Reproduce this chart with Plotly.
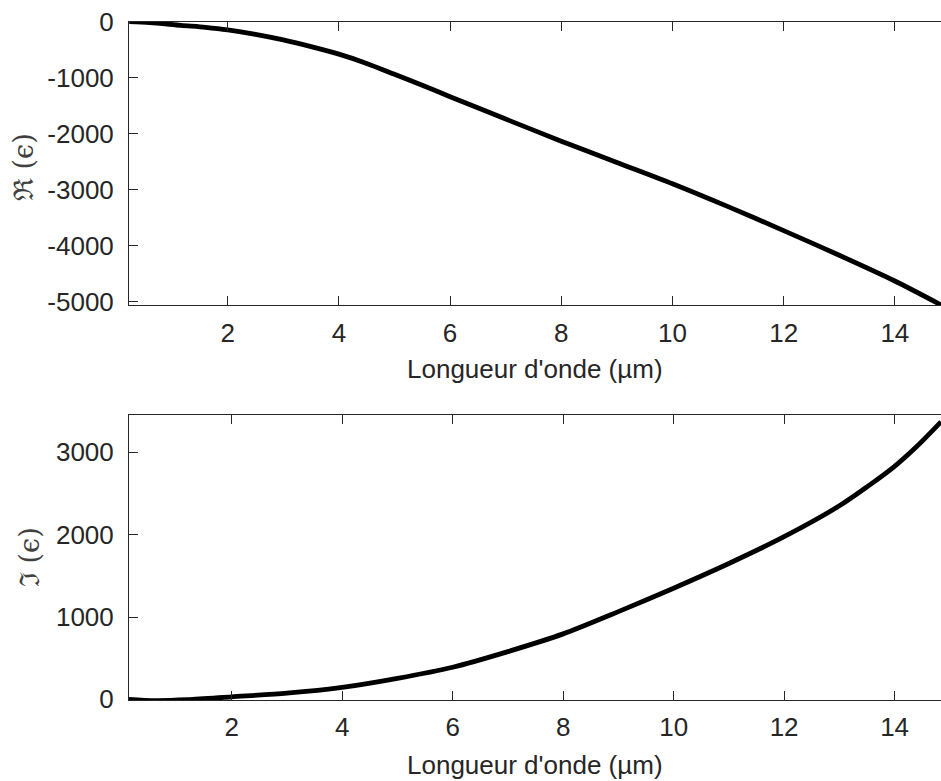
import plotly.graph_objects as go
from plotly.subplots import make_subplots

# Real part of permittivity (top)
wl_re = [0.23, 0.6, 1.16, 1.6, 2.0, 2.5, 3.0, 3.5, 4.0, 4.5, 5.0, 5.5, 6.0, 7.0, 8.0, 9.0, 10.0, 11.0, 12.0, 13.0, 14.0, 14.83]
eps_re = [5, -10, -60, -95, -140, -220, -320, -440, -575, -740, -935, -1130, -1335, -1735, -2130, -2510, -2890, -3300, -3730, -4170, -4630, -5058]

# Imaginary part of permittivity (bottom)
wl_im = [0.14, 0.61, 1.2, 2.0, 3.0, 4.0, 5.0, 6.0, 7.0, 8.0, 9.0, 10.0, 11.0, 12.0, 13.0, 13.5, 14.0, 14.4, 14.84]
eps_im = [0, -15, -5, 30, 75, 145, 255, 390, 580, 795, 1065, 1350, 1650, 1975, 2350, 2580, 2830, 3070, 3370]

x_ticks = [2, 4, 6, 8, 10, 12, 14]
y_ticks_re = [0, -1000, -2000, -3000, -4000, -5000]
y_ticks_im = [0, 1000, 2000, 3000]

xlabel = "Longueur d'onde (µm)"
ylabel_re = "ℜ (ϵ)"
ylabel_im = "ℑ (ϵ)"

W, H = 941, 781
L, R, T, B = 129, 0, 22, 81
ph = H - T - B

fig = make_subplots(rows=2, cols=1)
fig.add_trace(go.Scatter(x=wl_re, y=eps_re, mode="lines",
                         line=dict(color="black", width=4.8, shape="spline", smoothing=0.8),
                         showlegend=False), row=1, col=1)
fig.add_trace(go.Scatter(x=wl_im, y=eps_im, mode="lines",
                         line=dict(color="black", width=4.8, shape="spline", smoothing=0.8),
                         showlegend=False), row=2, col=1)

font = dict(family="Liberation Sans, Arial, sans-serif", size=26, color="#262626")
axcol = "#262626"

common_x = dict(showgrid=False, zeroline=False, showline=True, linecolor=axcol, linewidth=1,
                mirror="allticks", ticks="inside", ticklen=9, tickcolor=axcol,
                tickvals=x_ticks, ticktext=[str(v) for v in x_ticks], tickfont=font)
common_y = dict(showgrid=False, zeroline=False, showline=True, linecolor=axcol, linewidth=1,
                mirror=False, ticks="inside", ticklen=9, tickcolor=axcol, tickfont=font,
                ticklabelstandoff=9)

top_dom = [(700 - 305) / ph, 1.0]
bot_dom = [0.0, (700 - 415) / ph]

fig.update_xaxes(**common_x, range=[0.225, 14.83], domain=[0, 1], ticklabelstandoff=5, row=1, col=1)
fig.update_xaxes(**common_x, range=[0.141, 14.84], domain=[0, 1], ticklabelstandoff=4, row=2, col=1)
fig.update_yaxes(**common_y, range=[-5059, 0], domain=top_dom,
                 tickvals=y_ticks_re, ticktext=[str(v) for v in y_ticks_re], row=1, col=1)
fig.update_yaxes(**common_y, range=[-8, 3453], domain=bot_dom,
                 tickvals=y_ticks_im, ticktext=[str(v) for v in y_ticks_im], row=2, col=1)

def px_x(p):
    return (p - L) / (W - L - R)

def px_y(p):
    return (H - B - p) / ph

yfont = dict(family="DejaVu Serif, serif", size=27, color="#404040")
annots = [
    dict(text=xlabel, x=0.5, y=px_y(369), xref="paper", yref="paper", showarrow=False,
         xanchor="center", yanchor="middle", font=font),
    dict(text=xlabel, x=0.5, y=px_y(765), xref="paper", yref="paper", showarrow=False,
         xanchor="center", yanchor="middle", font=font),
    dict(text=ylabel_re, x=px_x(24), y=px_y(167), xref="paper", yref="paper", showarrow=False,
         textangle=-90, xanchor="center", yanchor="middle", font=yfont),
    dict(text=ylabel_im, x=px_x(29), y=px_y(557), xref="paper", yref="paper", showarrow=False,
         textangle=-90, xanchor="center", yanchor="middle", font=yfont),
]

fig.update_layout(width=W, height=H, margin=dict(l=L, r=R, t=T, b=B),
                  paper_bgcolor="white", plot_bgcolor="white", annotations=annots,
                  showlegend=False)

fig.write_html("out.html", config={"displayModeBar": False},
               post_script="document.body.style.margin='0';document.body.style.overflow='hidden';")
